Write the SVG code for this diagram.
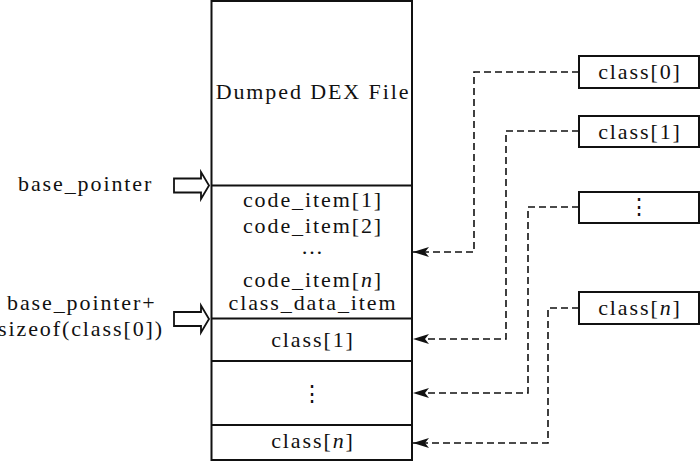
<svg xmlns="http://www.w3.org/2000/svg" width="700" height="462" viewBox="0 0 700 462">
<defs>
<style>
.t{font-family:"Liberation Serif","Times New Roman",serif;font-size:22px;letter-spacing:1.9px;fill:#111}
.m{text-anchor:middle}
.box{fill:#fff;stroke:#111;stroke-width:2}
.div{stroke:#111;stroke-width:2}
.dash{fill:none;stroke:#111;stroke-width:1.6;stroke-dasharray:7 4;marker-end:url(#ah)}
.hol{fill:#fff;stroke:#111;stroke-width:1.8;stroke-linejoin:miter}
.vd{font-family:"DejaVu Serif",serif;font-size:22px;text-anchor:middle;fill:#111}
</style>
<marker id="ah" viewBox="0 0 16 10" refX="16" refY="5" markerUnits="userSpaceOnUse" markerWidth="16" markerHeight="10" orient="auto">
<path d="M0,0 L16,5 L0,10 L4,5 z" fill="#111" stroke="none"/>
</marker>
</defs>

<g id="dex-file">
<rect class="box" x="211.5" y="1" width="200.5" height="459"/>
<line class="div" x1="211.5" y1="185.5" x2="412" y2="185.5"/>
<line class="div" x1="211.5" y1="318.5" x2="412" y2="318.5"/>
<line class="div" x1="211.5" y1="361" x2="412" y2="361"/>
<line class="div" x1="211.5" y1="425" x2="412" y2="425"/>
<text class="t m" x="313" y="99">Dumped DEX File</text>
<text class="t m" x="313" y="207">code_item[1]</text>
<text class="t m" x="313" y="233">code_item[2]</text>
<text class="t m" x="312" y="254" style="letter-spacing:0">…</text>
<text class="t m" x="313" y="287">code_item[<tspan font-style="italic">n</tspan>]</text>
<text class="t m" x="313" y="310">class_data_item</text>
<text class="t m" x="313" y="347">class[1]</text>
<text class="vd" x="312" y="401">⋮</text>
<text class="t m" x="313" y="448">class[<tspan font-style="italic">n</tspan>]</text>
</g>

<g id="base-pointer">
<text class="t" x="18" y="191">base_pointer</text>
<path class="hol" d="M174,178.5 L201,178.5 L201,172 L209,185.5 L201,199 L201,192.5 L174,192.5 z"/>
</g>

<g id="base-pointer-plus">
<text class="t" x="7" y="310">base_pointer+</text>
<text class="t" x="-2" y="336">sizeof(class[0])</text>
<path class="hol" d="M174,312 L201,312 L201,305.5 L209,319 L201,332.5 L201,326 L174,326 z"/>
</g>

<g id="class0">
<rect class="box" x="579" y="56" width="120" height="32"/>
<text class="t m" x="640" y="79">class[0]</text>
</g>
<g id="class1">
<rect class="box" x="579" y="116" width="120" height="31"/>
<text class="t m" x="640" y="139">class[1]</text>
</g>
<g id="class-dots">
<rect class="box" x="579" y="192" width="120" height="31"/>
<text class="vd" x="639" y="214">⋮</text>
</g>
<g id="classn">
<rect class="box" x="579" y="292" width="120" height="32"/>
<text class="t m" x="640" y="315">class[<tspan font-style="italic">n</tspan>]</text>
</g>

<g id="connectors">
<polyline class="dash" points="579,72 474,72 474,252 413,252"/>
<polyline class="dash" points="579,131 506,131 506,339 413,339"/>
<polyline class="dash" points="579,207 528,207 528,393 413,393"/>
<polyline class="dash" points="579,308 548,308 548,443 413,443"/>
</g>
</svg>
